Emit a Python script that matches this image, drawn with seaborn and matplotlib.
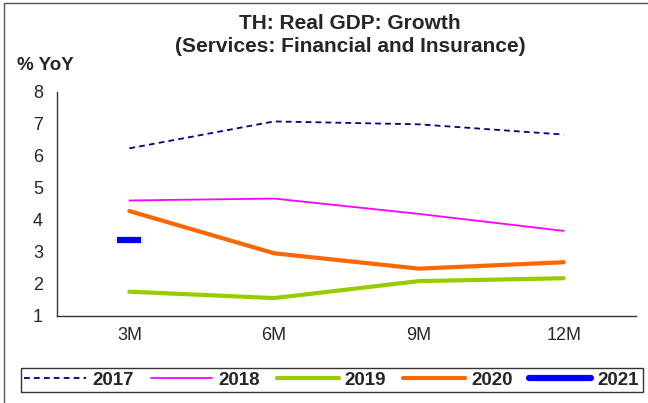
import matplotlib
matplotlib.use("Agg")
import matplotlib.pyplot as plt
import seaborn as sns
import pandas as pd
import numpy as np
from matplotlib.lines import Line2D
from matplotlib.patches import Rectangle

periods = ["3M", "6M", "9M", "12M"]
y2017 = [6.24, 7.08, 6.99, 6.67]
y2018 = [4.61, 4.67, 4.19, 3.66]
y2019 = [1.76, 1.56, 2.09, 2.18]
y2020 = [4.28, 2.96, 2.48, 2.68]
y2021 = [3.37]

sns.set_style("white")
plt.rcParams['font.family'] = ['Liberation Sans', 'DejaVu Sans']

fig = plt.figure(figsize=(6.48, 4.03), dpi=100)
ax = fig.add_axes([57/648, 1-316/403, (636-57)/648, (316-92)/403])

xpos = np.arange(len(periods))
styles = [
    ("2017", y2017, "#000080", 1.3, (0, (3.2, 2.3))),
    ("2018", y2018, "#FF00FF", 1.3, "-"),
    ("2019", y2019, "#99CC00", 3.0, "-"),
    ("2020", y2020, "#FF6600", 3.0, "-"),
]
for name, vals, col, lw, ls in styles:
    df = pd.DataFrame({"x": xpos[:len(vals)], "y": vals})
    sns.lineplot(data=df, x="x", y="y", ax=ax, color=col, linewidth=lw,
                 linestyle=ls, solid_capstyle="round")
df21 = pd.DataFrame({"x": xpos[:len(y2021)], "y": y2021})
sns.scatterplot(data=df21, x="x", y="y", ax=ax, color="#0000FF", marker="_",
                s=320, linewidth=4.5, zorder=5)

ax.set_xlim(-0.5, 3.5)
ax.set_ylim(1, 8)
ax.set_xticks(xpos)
ax.set_xticklabels(periods, fontsize=13)
ax.set_xticks(np.arange(-0.5, 4.0, 1.0), minor=True)
ax.tick_params(axis="x", which="major", length=0, pad=8)
ax.tick_params(axis="x", which="minor", length=5, direction="out", color="#333333", width=1)
ax.set_yticks(range(1, 9))
ax.tick_params(axis="y", length=5, direction="out", color="#333333", width=1, labelsize=13, pad=5)
ax.set_xlabel("")
ax.set_ylabel("")
for s in ["top", "right"]:
    ax.spines[s].set_visible(False)
for s in ["left", "bottom"]:
    ax.spines[s].set_color("#333333")
    ax.spines[s].set_linewidth(1)

fig.text(350/648, 1-35/403, "TH: Real GDP: Growth\n(Services: Financial and Insurance)",
         ha="center", va="center", fontsize=15, fontweight="bold", linespacing=1.22)
fig.text(17/648, 1-66/403, "% YoY", ha="left", va="center", fontsize=13.5, fontweight="bold")

handles = [Line2D([], [], color=c, lw=lw, ls=ls, solid_capstyle="round") for _, _, c, lw, ls in styles]
handles.append(Line2D([], [], color="#0000FF", lw=4.5, solid_capstyle="round"))
leg = fig.legend(handles, ["2017", "2018", "2019", "2020", "2021"], loc="center",
                 bbox_to_anchor=(331.5/648, 1-380/403), ncol=5, frameon=True, fancybox=False,
                 prop={"weight": "bold", "size": 13.5}, handlelength=3.3, columnspacing=0.9,
                 handletextpad=0.32, borderpad=0.2, borderaxespad=0)
leg.get_frame().set_edgecolor("black")
leg.get_frame().set_linewidth(1)

fig.patches.append(Rectangle((4/648, -0.01), 1.0, 1-3/403+0.01, transform=fig.transFigure,
                             fill=False, edgecolor="#555555", linewidth=1))

fig.savefig("out.png", dpi=100)
